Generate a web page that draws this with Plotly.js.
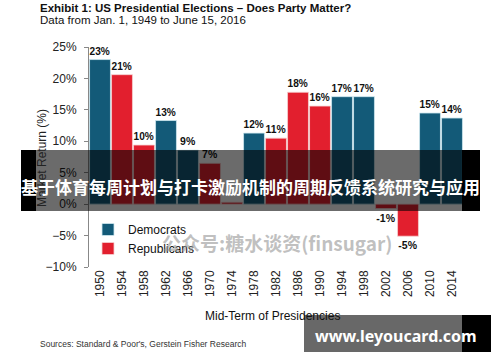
<!DOCTYPE html>
<html><head><meta charset="utf-8">
<script src="https://cdn.plot.ly/plotly-3.0.1.min.js"></script>
<style>html,body{margin:0;padding:0;background:#fff}#chart{width:500px;height:362px}</style>
</head><body><div id="chart"></div>
<script>
const years = ['1950','1954','1958','1962','1966','1970','1974','1978','1982','1986','1990','1994','1998','2002','2006','2010','2014'];
const demValues = [23.0, null, null, 13.3, 8.6, null, null, 11.3, null, null, null, 17.1, 17.1, null, null, 14.5, 13.7];
const repValues = [null, 20.6, 9.4, null, null, 6.5, 0.3, null, 10.5, 17.8, 15.6, null, null, -0.7, -5.1, null, null];
const demLabels = ['23%','','','13%','9%','','','12%','','','','17%','17%','','','15%','14%'];
const repLabels = ['','21%','10%','','','7%','','','11%','18%','16%','','','-1%','-5%','',''];

const FONT = 'Arial, "Liberation Sans", sans-serif';
// pixel -> paper helpers (plot area x 89..463, y 47..267)
const L = 89, R = 463, T = 47, B = 267;
const px = x => (x - L) / (R - L);
const py = y => (B - y) / (B - T);

const common = {type:'bar', x: years, width: 0.95, textposition:'outside', cliponaxis:false,
  textfont:{family:FONT, size:10.5, color:'#111', weight:'bold'}, hoverinfo:'skip'};
const traces = [
  Object.assign({}, common, {name:'Democrats', y: demValues, text: demLabels,
    marker:{color:'#135a78', line:{color:'#cfe8f0', width:0.8}}}),
  Object.assign({}, common, {name:'Republicans', y: repValues, text: repLabels,
    marker:{color:'#e21f2e', line:{color:'#f6d0d0', width:0.8}}})
];

const layout = {
  width:500, height:362,
  margin:{l:L, r:500-R, t:T, b:362-B},
  paper_bgcolor:'#fff', plot_bgcolor:'#fff',
  barmode:'overlay', showlegend:true,
  font:{family:FONT, color:'#222'},
  xaxis:{type:'category', range:[-0.5,16.5], tickangle:-90, showline:false, ticks:'',
    showgrid:false, zeroline:false, tickfont:{size:12, color:'#222'}, fixedrange:true},
  yaxis:{range:[-10,25], dtick:5, ticksuffix:'%', showline:true, linecolor:'#888', linewidth:1,
    ticks:'outside', ticklen:4, tickcolor:'#888', showgrid:false, zeroline:false,
    ticklabelstandoff:5, tickfont:{size:12, color:'#222'}, fixedrange:true},
  legend:{x:px(88), y:py(215), xanchor:'left', yanchor:'top', bgcolor:'rgba(0,0,0,0)',
    font:{size:12, color:'#111'}, tracegroupgap:0, itemwidth:30},
  shapes:[
    {type:'rect', xref:'paper', yref:'paper', x0:px(36), x1:px(462), y0:py(211), y1:py(150),
      fillcolor:'rgba(0,0,0,0.58)', line:{width:0}, layer:'above'},
    {type:'rect', xref:'paper', yref:'paper', x0:px(21), x1:px(36), y0:py(211), y1:py(150),
      fillcolor:'#000', line:{width:0}, layer:'above'},
    {type:'rect', xref:'paper', yref:'paper', x0:px(462), x1:px(480), y0:py(211), y1:py(150),
      fillcolor:'#000', line:{width:0}, layer:'above'},
    {type:'rect', xref:'paper', yref:'paper', x0:px(304), x1:px(462), y0:py(352), y1:py(315),
      fillcolor:'#686868', line:{width:0}, layer:'above'},
    {type:'rect', xref:'paper', yref:'paper', x0:px(462), x1:px(491), y0:py(352), y1:py(315),
      fillcolor:'#000', line:{width:0}, layer:'above'}
  ],
  annotations:[
    {text:'<b>Exhibit 1: US Presidential Elections – Does Party Matter?</b>', xref:'paper', yref:'paper',
      x:px(38), y:py(0), xanchor:'left', yanchor:'top', showarrow:false, font:{size:11.5, color:'#111'}},
    {text:'Data from Jan. 1, 1949 to June 15, 2016', xref:'paper', yref:'paper',
      x:px(38), y:py(12), xanchor:'left', yanchor:'top', showarrow:false, font:{size:11.5, color:'#111'}},
    {text:'Market Return (%)', xref:'paper', yref:'paper', x:px(42), y:py(158), textangle:-90,
      xanchor:'center', yanchor:'middle', showarrow:false, font:{size:12, color:'#222'}},
    {text:'Mid-Term of Presidencies', xref:'paper', yref:'paper', x:px(272), y:py(316),
      xanchor:'center', yanchor:'middle', showarrow:false, font:{size:12, color:'#111'}},
    {text:"Sources: Standard & Poor's, Gerstein Fisher Research", xref:'paper', yref:'paper',
      x:px(38), y:py(344), xanchor:'left', yanchor:'middle', showarrow:false, font:{size:8.5, color:'#333'}},
    {text:'<b>公众号:糖水谈资(finsugar)</b>', xref:'paper', yref:'paper', x:px(277), y:py(242),
      xanchor:'center', yanchor:'middle', showarrow:false,
      font:{family:'"Noto Sans CJK SC", sans-serif', size:19, color:'rgba(150,150,150,0.6)'}},
    {text:'<b>基于体育每周计划与打卡激励机制的周期反馈系统研究与应用</b>', xref:'paper', yref:'paper',
      x:px(250), y:py(186), xanchor:'center', yanchor:'middle', showarrow:false,
      font:{family:'"Noto Sans CJK SC", sans-serif', size:17, color:'#fff'}},
    {text:'<b>www.leyoucard.com</b>', xref:'paper', yref:'paper', x:px(396), y:py(336),
      xanchor:'center', yanchor:'middle', showarrow:false,
      font:{family:'"Noto Sans", "DejaVu Sans", sans-serif', size:16, color:'#fff'}}
  ]
};
Plotly.newPlot('chart', traces, layout, {displayModeBar:false, staticPlot:true});
</script></body></html>
